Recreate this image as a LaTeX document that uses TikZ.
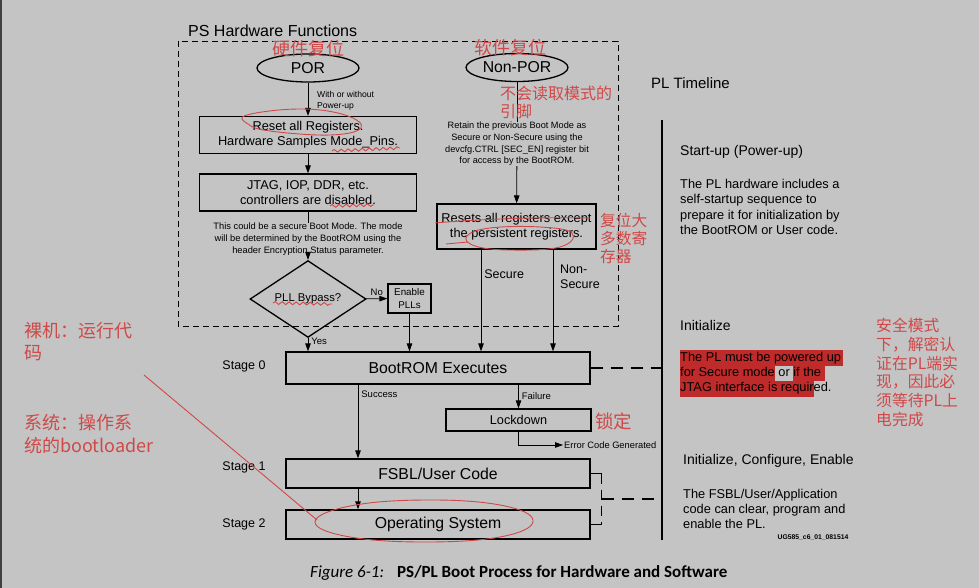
\documentclass[tikz,border=0pt]{standalone}
\usepackage{fontspec}
\setmainfont{Liberation Sans}
\newfontfamily\cjk{Noto Sans CJK SC}
\newfontfamily\capfont{Carlito}
\usetikzlibrary{arrows.meta,shapes.geometric,positioning,calc,quotes,decorations.pathmorphing}
\definecolor{bg}{HTML}{C4C4C4}
\definecolor{ink}{HTML}{D04848}
\definecolor{hlred}{HTML}{BF2A2A}
\newcommand{\hlbox}[1]{{\setlength{\fboxsep}{0pt}\colorbox{hlred}{\strut #1}}}

\begin{document}
\begin{tikzpicture}[x=1pt, y=-1pt, auto,
            > = {Triangle[length=8pt, width=5.5pt]},
every edge quotes/.style = {font=\fontsize{9.5}{11}\selectfont, inner sep=3pt},
every edge/.append style = {->, draw=black, line width=0.8pt},
      box/.style = {rectangle, draw, line width=1.3pt, inner sep=0pt, align=center, font=\fontsize{12.8}{15}\selectfont},
     wide/.style = {box, minimum width=304pt, font=\fontsize{15.8}{18}\selectfont},
     oval/.style = {ellipse, draw, line width=1.3pt, minimum width=102pt, minimum height=28pt, inner sep=0pt, font=\fontsize{15.8}{18}\selectfont},
     note/.style = {align=center, inner sep=0pt, font=\fontsize{9.3}{11.8}\selectfont},
      lbl/.style = {inner sep=0pt, anchor=west, align=left, font=\fontsize{8.6}{11}\selectfont},
    stage/.style = {inner sep=0pt, font=\fontsize{12.5}{15}\selectfont},
   plhead/.style = {inner sep=0pt, anchor=west, font=\fontsize{14}{16}\selectfont},
   pltext/.style = {inner sep=0pt, anchor=west, align=left, font=\fontsize{12.8}{15.4}\selectfont},
  redtext/.style = {inner sep=0pt, anchor=west, align=left, text=ink},
   redink/.style = {draw=ink, line width=0.9pt},
    wavy/.style = {redink, decorate, decoration={snake, amplitude=1.4pt, segment length=7pt}},
  dashgap/.style = {dash pattern=on 12pt off 8pt, line width=1.3pt}
]
\useasboundingbox (0,0) rectangle (979,588);
\fill[bg] (0,0) rectangle (979,588);
\draw[line width=2pt, black!75] (1,0) -- (1,588);

% PS side
\draw[dash pattern=on 6pt off 4pt, line width=0.9pt] (178,41) rectangle (618,326);
\node[anchor=west, inner sep=0pt, font=\fontsize{16}{18}\selectfont] (pstitle) at (188,31) {PS Hardware Functions};

\node[oval] (POR) at (308,68) {POR};
\node[lbl] (powerup) at (317,101) {With or without\\Power-up};
\node[box, minimum width=217pt, minimum height=37pt] (reset) at (308,135) {Reset all Registers.\\Hardware Samples Mode\_Pins.};
\node[box, minimum width=217pt, minimum height=37pt] (jtag) at (308,192.5) {JTAG, IOP, DDR, etc.\\controllers are disabled.};
\node[note] (secnote) at (308,239) {This could be a secure Boot Mode. The mode\\will be determined by the BootROM using the\\header Encryption Status parameter.};
\node[diamond, draw, line width=1.3pt, minimum width=116pt, minimum height=42pt, inner sep=0pt, font=\fontsize{11.3}{13}\selectfont] (pll) at (308,299) {PLL Bypass?};
\node[box, minimum width=43pt, minimum height=29pt, font=\fontsize{9.8}{13}\selectfont] (enpll) at (409.5,298.5) {Enable\\PLLs};

\node[oval] (nonpor) at (517,67.5) {Non-POR};
\node[note, font=\fontsize{9.2}{11.7}\selectfont] (retain) at (517,144) {Retain the previous Boot Mode as\\Secure or Non-Secure using the\\devcfg.CTRL [SEC\_EN] register bit\\for access by the BootROM.};
\node[box, minimum width=159pt, minimum height=45pt] (persist) at (516.5,226.5) {Resets all registers except\\the persistent registers.};
\coordinate (sec) at (481,249);
\coordinate (nsec) at (553,249);
\node[lbl, font=\fontsize{12.5}{15}\selectfont] (nseclbl) at (560,277) {Non-\\Secure};

% stages
\node[wide, minimum height=32pt] (bootrom) at (438,368) {BootROM Executes};
\node[box, minimum width=145pt, minimum height=22pt, font=\fontsize{12.7}{15}\selectfont] (lock) at (518.5,420) {Lockdown};
\node[lbl, inner sep=1pt, font=\fontsize{9.3}{11}\selectfont] (err) at (563,445) {Error Code Generated};
\node[wide, minimum height=29pt] (fsbl) at (438,473.5) {FSBL/User Code};
\node[wide, minimum height=29pt] (os) at (438,524.5) {Operating System};
\coordinate (succ) at (358,384);
\node[stage] (st0) at (244,366) {Stage 0};
\node[stage] (st1) at (244,467) {Stage 1};
\node[stage] (st2) at (244,524) {Stage 2};

\path
        (POR) edge (reset)
        (reset) edge (jtag)
        (secnote) edge (pll)
        (pll) edge ["No"] (enpll)
        (pll) edge ["Yes" near start] (pll |- bootrom.north)
        (enpll) edge (enpll |- bootrom.north)
        (retain) edge (persist)
        (sec) edge ["Secure" {near start, font=\fontsize{12.5}{15}\selectfont}] (sec |- bootrom.north)
        (nsec) edge (nsec |- bootrom.north)
        (bootrom.south -| succ) edge ["Success" very near start] (fsbl.north -| succ)
        (bootrom.south -| lock) edge ["Failure"] (lock.north)
        (fsbl.south -| succ) edge (os.north -| succ)
        (lock) edge [to path={|- (\tikztotarget)}] (err);
\draw[line width=0.8pt] (jtag) -- (secnote);
\draw[line width=0.8pt] (nonpor) -- (retain);

% PL timeline
\coordinate (tltop) at (662,120);
\coordinate (tlbot) at (662,540);
\draw[line width=1.5pt] (tltop) -- (tlbot);
\draw[dashgap] (bootrom.east) -- (bootrom.east -| tltop);
\draw[line width=1.3pt] (fsbl.east) -- ++(11,0) coordinate (fb1);
\draw[line width=1.3pt] (os.east) -- ++(11,0) coordinate (fb2);
\draw[dash pattern=on 10pt off 6pt, line width=1.3pt] (fb1) -- (fb2);
\draw[dashgap] ($(fb1)!0.5!(fb2)$) coordinate (fbm) -- (fbm -| tltop);

\node[anchor=west, inner sep=0pt, font=\fontsize{15}{18}\selectfont] (pltitle) at (651,83) {PL Timeline};
\node[plhead] (startup) at (680,152) {Start-up (Power-up)};
\node[pltext] (startuptxt) at (680,207) {The PL hardware includes a\\self-startup sequence to\\prepare it for initialization by\\the BootROM or User code.};
\node[plhead] (init) at (680,325) {Initialize};
\node[pltext] (inittxt) at (680,373.5) {\hlbox{The PL must be powered up\hspace{2pt}}\\\hlbox{for Secure mode} or \hlbox{if the\hspace{4pt}}\\\hlbox{JTAG interface is requir}ed.};
\node[plhead] (icenable) at (683,461) {Initialize, Configure, Enable};
\node[pltext] (icetxt) at (683,509) {The FSBL/User/Application\\code can clear, program and\\enable the PL.};
\node[inner sep=0pt, font=\bfseries\fontsize{6.8}{8}\selectfont] (ugid) at (813,538) {UG585\_c6\_01\_081514};

\node[inner sep=0pt, anchor=west, font=\capfont\fontsize{17}{20}\selectfont] (caption) at (310,573) {\textit{Figure 6-1:}\hspace{13pt}\textbf{PS/PL Boot Process for Hardware and Software}};

% red notes
\node[redtext, anchor=center, font=\cjk\fontsize{18}{20}\selectfont] (hwrst) at (308,49) {硬件复位};
\node[redtext, anchor=center, font=\cjk\fontsize{18}{20}\selectfont] (swrst) at (510,48) {软件复位};
\node[redtext, font=\cjk\fontsize{16}{18}\selectfont] (nopin) at (500,102) {不会读取模式的\\引脚};
\node[redtext, font=\cjk\fontsize{15.7}{18}\selectfont] (mostrst) at (600,238) {复位大\\多数寄\\存器};
\node[redtext, font=\cjk\fontsize{18.5}{20}\selectfont] (lockcn) at (595,421) {锁定};
\node[redtext, font=\cjk\fontsize{15.8}{18.7}\selectfont] (plsec) at (876,372.5) {安全模式\\下，解密认\\证在PL端实\\现，因此必\\须等待PL上\\电完成};
\node[redtext, font=\cjk\fontsize{18}{22}\selectfont] (baremetal) at (24,342) {裸机：运行代\\码};
\node[redtext, font=\cjk\fontsize{18}{23}\selectfont] (osnote) at (24,434) {系统：操作系\\统的bootloader};

\draw[redink] plot[smooth cycle, tension=0.7] coordinates {(247,115) (300,109) (345,115) (361,128) (330,135) (270,131) (248,124)};
\draw[wavy] (332,151) -- (400,148);
\draw[wavy] (330,206) -- (374,205);
\draw[wavy] (273,303) -- (332,304);
\draw[redink] (435,223) .. controls (480,219) and (540,217) .. (590,218);
\draw[redink] (446,244) -- (468,242);
\draw[redink] plot[smooth cycle, tension=0.7] coordinates {(467,236) (490,228) (540,227) (572,233) (560,247) (510,250) (475,246)};
\draw[redink] plot[smooth cycle, tension=0.7] coordinates {(315,522) (350,506) (425,500) (500,505) (533,520) (505,536) (430,542) (350,537)};
\draw[redink] (144,375) -- (317,520);
\end{tikzpicture}
\end{document}
